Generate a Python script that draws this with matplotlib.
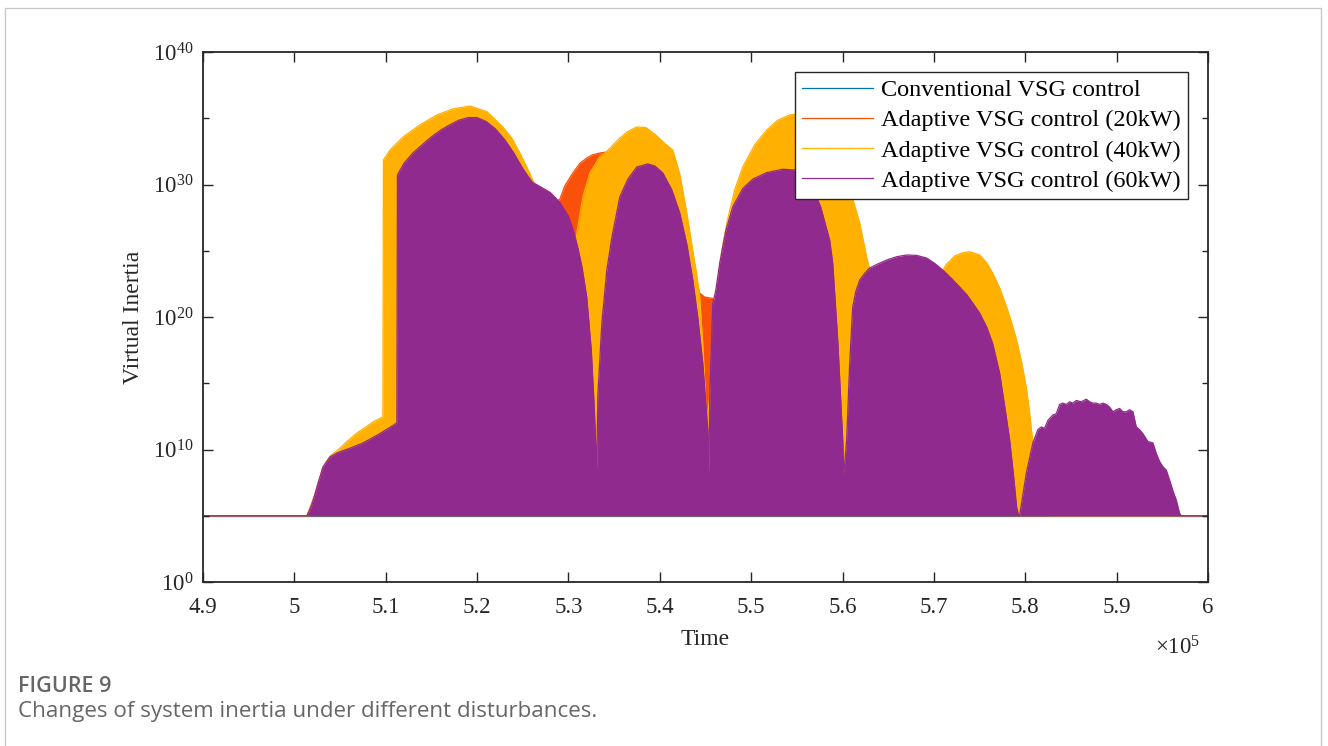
import matplotlib
matplotlib.use("Agg")
import matplotlib.pyplot as plt
import numpy as np
from matplotlib.patches import Rectangle
from matplotlib.ticker import FixedLocator, LogFormatterSciNotation, NullFormatter

plt.rcParams["font.family"] = "Liberation Serif"
plt.rcParams["mathtext.fontset"] = "custom"
plt.rcParams["mathtext.rm"] = "Liberation Serif"
plt.rcParams["mathtext.it"] = "Liberation Serif:italic"

# time in units of 1e5, inertia as log10 (envelope of the oscillating trace)
BASE_LOG = 5.0

T_CONV = [4.9, 6.0]
LOG_CONV = [5.0, 5.0]

T_20 = [4.9, 5.0138, 5.0247, 5.0313, 5.0389, 5.0466, 5.0750, 5.1122, 5.1128, 5.1374,
        5.1921, 5.2282, 5.2435, 5.2610, 5.2763, 5.2873, 5.2906, 5.2960, 5.3048, 5.3125,
        5.3201, 5.3267, 5.3343, 5.3420, 5.3562, 5.3781, 5.4054, 5.4218, 5.4361, 5.4437,
        5.4492, 5.4579, 5.4601, 5.4700, 5.5000, 5.5400, 5.5700, 5.5900, 5.6000, 5.6100,
        5.6500, 5.7000, 5.7500, 5.7800, 5.7900, 6.0]
LOG_20 = [5.0, 5.0, 7.0, 8.5, 9.3, 9.6, 10.3, 11.8, 30.5, 32.6,
          34.8, 33.3, 31.5, 29.9, 29.4, 28.7, 28.9, 29.9, 30.87, 31.6,
          32.0, 32.25, 32.38, 32.45, 32.0, 31.0, 29.0, 27.0, 23.8, 21.8,
          21.5, 21.4, 17.0, 20.0, 27.0, 29.0, 27.0, 20.0, 8.0, 15.0,
          22.0, 22.0, 18.0, 9.0, 5.0, 5.0]

T_40 = [4.9, 5.0138, 5.0192, 5.0247, 5.0313, 5.0389, 5.0466, 5.0575, 5.0685, 5.0794,
        5.0860, 5.0969, 5.0975, 5.1046, 5.1188, 5.1374, 5.1560, 5.1735, 5.1921, 5.2107,
        5.2282, 5.2380, 5.2468, 5.2545, 5.2610, 5.2741, 5.2906, 5.3015, 5.3092, 5.3157,
        5.3234, 5.3343, 5.3420, 5.3562, 5.3650, 5.3748, 5.3846, 5.3945, 5.4054, 5.4142,
        5.4218, 5.4295, 5.4361, 5.4404, 5.4437, 5.4470, 5.4492, 5.4514, 5.4579, 5.4623,
        5.4678, 5.4733, 5.4820, 5.4908, 5.5039, 5.5170, 5.5290, 5.5422, 5.5586, 5.5750,
        5.5914, 5.6023, 5.6100, 5.6188, 5.6264, 5.6319, 5.6516, 5.6789, 5.7008, 5.7096,
        5.7140, 5.7227, 5.7314, 5.7391, 5.7500, 5.7577, 5.7643, 5.7719, 5.7796, 5.7850,
        5.7905, 5.7960, 5.8015, 5.8047, 5.8080, 5.8157, 5.8266, 6.0]
LOG_40 = [5.0, 5.0, 5.8, 7.17, 8.68, 9.5, 9.9, 10.6, 11.25, 11.75,
          12.08, 12.45, 31.85, 32.6, 33.58, 34.5, 35.25, 35.7, 35.92, 35.5,
          34.34, 33.5, 32.38, 31.3, 30.34, 27.5, 24.0, 22.0, 26.34, 29.06,
          30.87, 32.1, 32.5, 33.5, 34.0, 34.34, 34.3, 33.8, 33.1, 32.6,
          30.8, 27.85, 25.0, 23.2, 21.5, 18.0, 15.0, 12.0, 16.0, 22.04,
          25.0, 27.09, 29.6, 31.32, 33.0, 34.11, 34.85, 35.25, 35.4, 34.5,
          32.4, 30.6, 29.2, 27.09, 24.53, 23.0, 20.5, 21.5, 23.0, 23.55,
          24.0, 24.6, 24.85, 24.93, 24.68, 24.1, 23.32, 22.2, 20.75, 19.6,
          18.26, 16.6, 14.5, 12.8, 10.72, 8.0, 5.0, 5.0]

T_60 = [4.9, 5.0138, 5.0192, 5.0247, 5.0313, 5.0389, 5.0466, 5.0608, 5.0750, 5.0936,
        5.1122, 5.1128, 5.12, 5.13, 5.14, 5.15, 5.16, 5.17, 5.18, 5.19,
        5.20, 5.21, 5.22, 5.23, 5.24, 5.25, 5.26, 5.27, 5.28, 5.29,
        5.30, 5.305, 5.31, 5.315, 5.32, 5.325, 5.328, 5.331, 5.3321, 5.3365,
        5.3420, 5.3475, 5.3562, 5.3650, 5.3748, 5.3868, 5.3945, 5.4032, 5.4131, 5.4218,
        5.4295, 5.4361, 5.4415, 5.4470, 5.4525, 5.4536, 5.4547, 5.4579, 5.4612, 5.4656,
        5.4722, 5.4798, 5.4908, 5.5017, 5.5170, 5.5345, 5.5476, 5.5531, 5.5641, 5.5695,
        5.5761, 5.5827, 5.5859, 5.5892, 5.5947, 5.6002, 5.6013, 5.6045, 5.6078, 5.6111,
        5.6144, 5.6188, 5.6243, 5.6297, 5.6385, 5.6483, 5.6592, 5.6702, 5.6811, 5.6921,
        5.7008, 5.7096, 5.7194, 5.7282, 5.7358, 5.7424, 5.7500, 5.7577, 5.7643, 5.7719,
        5.7774, 5.7829, 5.7872, 5.7905, 5.7927,
        5.7938, 5.8011, 5.8083, 5.8138, 5.8175, 5.8211, 5.8248, 5.8302, 5.8339, 5.8376,
        5.8412, 5.8449, 5.8485, 5.8521, 5.8558, 5.8613, 5.8668, 5.8704, 5.8740, 5.8777,
        5.8813, 5.8850, 5.8887, 5.8923, 5.8959, 5.8996, 5.9032, 5.9068, 5.9105, 5.9141,
        5.9178, 5.9215, 5.9251, 5.9287, 5.9342, 5.9397, 5.9434, 5.9470, 5.9506, 5.9543,
        5.9579, 5.9615, 5.9652, 5.9688, 5.9707, 6.0]
LOG_60 = [5.0, 5.0, 5.8, 7.17, 8.68, 9.43, 9.74, 10.1, 10.49, 11.2,
          12.0, 30.72, 31.6, 32.4, 33.0, 33.6, 34.1, 34.5, 34.85, 35.05,
          35.05, 34.75, 34.2, 33.4, 32.4, 31.2, 30.2, 29.8, 29.4, 28.7,
          27.6, 26.6, 25.3, 23.7, 21.5, 17.5, 13.5, 8.45, 14.0, 19.5,
          23.55, 26.0, 29.06, 30.4, 31.32, 31.55, 31.4, 30.87, 29.6, 27.85,
          25.5, 22.79, 20.0, 16.53, 11.47, 8.08, 14.0, 21.0, 22.0, 24.08,
          26.5, 28.3, 29.7, 30.4, 30.9, 31.15, 31.1, 30.7, 30.0, 29.4,
          28.3, 26.6, 25.8, 24.1, 18.3, 10.72, 8.08, 10.72, 16.5, 20.75,
          21.9, 22.8, 23.3, 23.7, 24.0, 24.3, 24.55, 24.68, 24.65, 24.45,
          24.05, 23.55, 22.9, 22.26, 21.7, 21.06, 20.3, 19.25, 18.0, 15.77,
          13.3, 10.72, 8.0, 5.66, 5.0,
          5.0, 8.2, 10.5, 11.5, 11.7, 11.6, 12.2, 12.6, 12.7, 13.4,
          13.5, 13.4, 13.6, 13.5, 13.7, 13.6, 13.8, 13.6, 13.5, 13.5,
          13.4, 13.5, 13.4, 13.2, 12.85, 13.0, 13.1, 12.85, 12.85, 13.0,
          12.85, 11.7, 11.5, 11.2, 10.6, 10.5, 9.7, 9.1, 8.7, 8.45,
          7.7, 6.9, 6.2, 5.2, 5.0, 5.0]

LABELS = ["Conventional VSG control", "Adaptive VSG control (20kW)",
          "Adaptive VSG control (40kW)", "Adaptive VSG control (60kW)"]
COLORS = ["#0072BD", "#F9500A", "#FFB000", "#912A8E"]

X_TICKS = [4.9, 5.0, 5.1, 5.2, 5.3, 5.4, 5.5, 5.6, 5.7, 5.8, 5.9, 6.0]
X_TICKLABELS = ["4.9", "5", "5.1", "5.2", "5.3", "5.4", "5.5", "5.6", "5.7", "5.8", "5.9", "6"]

INK = "#262626"

fig = plt.figure(figsize=(13.28, 7.46), dpi=100)
fig.patch.set_facecolor("white")
ax = fig.add_axes([203 / 1328, 1 - 582 / 746, 1005 / 1328, 530 / 746])

series = [(T_CONV, LOG_CONV), (T_20, LOG_20), (T_40, LOG_40), (T_60, LOG_60)]
handles = []
for i, ((t, lg), col, lab) in enumerate(zip(series, COLORS, LABELS)):
    t = np.array(t)
    y = 10.0 ** np.array(lg)
    z = 1.0 + 0.1 * i
    ax.fill_between(t, 10.0 ** BASE_LOG, y, color=col, linewidth=0, zorder=z)
    h, = ax.plot(t, y, color=col, linewidth=0.9, label=lab, zorder=z)
    handles.append(h)

ax.set_yscale("log")
ax.set_xlim(4.9, 6.0)
ax.set_ylim(1e0, 1e40)
ax.yaxis.set_major_locator(FixedLocator([1e0, 1e10, 1e20, 1e30, 1e40]))
ax.yaxis.set_minor_locator(FixedLocator([1e5, 1e15, 1e25, 1e35]))
ax.yaxis.set_major_formatter(LogFormatterSciNotation())
ax.yaxis.set_minor_formatter(NullFormatter())
ax.set_xticks(X_TICKS)
ax.set_xticklabels(X_TICKLABELS)

ax.tick_params(which="both", direction="in", top=True, right=True,
               labelsize=16.5, colors=INK, width=1.0)
ax.tick_params(which="major", length=7)
ax.tick_params(which="minor", length=4)
ax.tick_params(axis="x", which="major", pad=11)
ax.tick_params(axis="y", which="major", pad=7)
for sp in ax.spines.values():
    sp.set_linewidth(1.3)
    sp.set_color(INK)

ax.set_xlabel("Time", fontsize=17, color=INK)
ax.set_ylabel("Virtual Inertia", fontsize=17, color=INK)
ax.xaxis.set_label_coords(0.5, -0.088)
ax.yaxis.set_label_coords(-0.059, 0.5)

leg = ax.legend(handles=handles, loc="upper right", bbox_to_anchor=(0.980, 0.962),
                borderaxespad=0, fontsize=17.5, frameon=True, fancybox=False,
                handlelength=2.9, handletextpad=0.33, labelspacing=0.33,
                borderpad=0.3, framealpha=1)
leg.get_frame().set_edgecolor(INK)
leg.get_frame().set_linewidth(1.0)
leg.set_zorder(10)

fig.text(1178 / 1328, 1 - 648 / 746, r"$\times10^{5}$", fontsize=16.5,
         color=INK, ha="center", va="center")

# card border and caption
fig.patches.append(Rectangle((5 / 1328, -0.05), 1316 / 1328, 1.05 - 8 / 746,
                             transform=fig.transFigure, fill=False,
                             edgecolor="#c8c8c8", linewidth=1.0))
fig.text(18 / 1328, 1 - 686 / 746, "FIGURE 9", family="Open Sans", fontsize=15.5,
         fontweight="semibold", color="#666666", va="center")
fig.text(18 / 1328, 1 - 711 / 746, "Changes of system inertia under different disturbances.",
         family="Open Sans", fontsize=16.1, color="#666666", va="center")

fig.savefig("out.png", dpi=100, facecolor="white")
